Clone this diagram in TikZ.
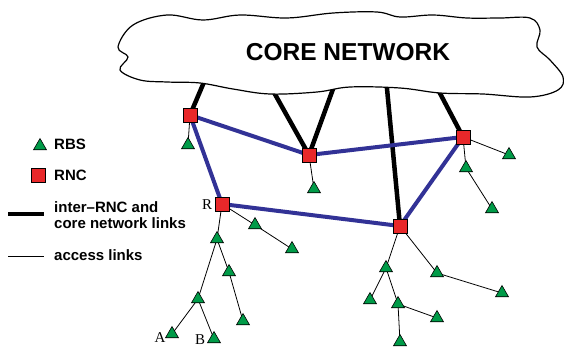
\documentclass[tikz,border=0pt]{standalone}
\usepackage{fontspec}
\setmainfont{Liberation Sans}
\newfontfamily\seriffont{Liberation Serif}
\usetikzlibrary{shapes.geometric}
\pgfdeclarelayer{bg}
\pgfsetlayers{bg,main}
\definecolor{rbsgreen}{RGB}{0,155,72}
\definecolor{rncred}{RGB}{232,40,42}
\definecolor{linkblue}{RGB}{50,50,150}
\begin{document}
\begin{tikzpicture}[x=1pt,y=-1pt,
 rbs/.style={regular polygon, regular polygon sides=3, minimum size=15pt, inner sep=0pt, fill=rbsgreen, draw=black, line width=0.6pt},
 rnc/.style={rectangle, minimum size=14pt, inner sep=0pt, fill=rncred, draw=black, line width=0.6pt},
 interlink/.style={line width=4pt, draw=linkblue},
 corelink/.style={line width=4.5pt, draw=black},
 access/.style={line width=0.8pt, draw=black},
 lbl/.style={font=\bfseries\fontsize{15}{16}\selectfont, anchor=west, inner sep=0pt, align=left},
 letter/.style={font=\seriffont\fontsize{15}{16}\selectfont, inner sep=0pt},
 ]
\useasboundingbox (0,0) rectangle (564,348);

% cloud anchor points for core links
\coordinate (c1) at (207,75);
\coordinate (c2) at (267,80);
\coordinate (c3) at (337,78);
\coordinate (c4) at (386,78);
\coordinate (c5) at (433,80);

% RNC nodes
\node[rnc] (r1) at (190,115) {};
\node[rnc] (r2) at (309,155) {};
\node[rnc] (r3) at (463,137) {};
\node[rnc] (r4) at (222,204) {};
\node[rnc] (r5) at (400,226) {};

% RBS nodes
\node[rbs] (t1) at (188,145) {};
\node[rbs] (t2) at (314,189) {};
\node[rbs] (t3) at (509,155) {};
\node[rbs] (t4) at (466,168) {};
\node[rbs] (t5) at (492,209) {};
\node[rbs] (t6) at (255,225) {};
\node[rbs] (t7) at (292,249) {};
\node[rbs] (t8) at (217,239) {};
\node[rbs] (t9) at (229,272) {};
\node[rbs] (t10) at (243,321) {};
\node[rbs] (t11) at (198,299) {};
\node[rbs] (tA) at (172,334) {};
\node[rbs] (tB) at (214,339) {};
\node[rbs] (t12) at (386,268) {};
\node[rbs] (t13) at (370,300) {};
\node[rbs] (t14) at (398,304) {};
\node[rbs] (t15) at (437,318) {};
\node[rbs] (t16) at (400,342) {};
\node[rbs] (t17) at (437,273) {};
\node[rbs] (t18) at (502,293) {};

% labels
\node[letter] (lR) at (207,205) {R};
\node[letter] (lA) at (160,338) {A};
\node[letter] (lB) at (200,339.5) {B};

% cloud
\draw[line width=1.2pt, fill=white] plot[smooth cycle, tension=0.6] coordinates {
 (133,25) (167,15) (203,20) (240,15) (287,18) (333,13) (377,12) (400,17)
 (433,15) (467,18) (500,18) (530,18) (540,30) (537,47) (550,60) (563,77)
 (558,90) (530,97) (483,94) (440,93) (400,88) (350,87) (317,92) (270,94)
 (233,89) (200,83) (167,82) (140,80) (120,70) (128,57) (118,47)};
\node[font=\bfseries\fontsize{24.5}{26}\selectfont, inner sep=0pt] (core) at (348,52) {CORE NETWORK};

\begin{pgfonlayer}{bg}
 % core links
 \draw[corelink] (r1.center) -- (c1);
 \draw[corelink] (r2.center) -- (c2);
 \draw[corelink] (r2.center) -- (c3);
 \draw[corelink] (r5.center) -- (c4);
 \draw[corelink] (r3.center) -- (c5);
 % inter-RNC links
 \draw[interlink] (r1.center) -- (r2.center);
 \draw[interlink] (r1.center) -- (r4.center);
 \draw[interlink] (r2.center) -- (r3.center);
 \draw[interlink] (r3.center) -- (r5.center);
 \draw[interlink] (r4.center) -- (r5.center);
 % access links
 \draw[access] (r1.center) -- (t1.center);
 \draw[access] (r2.center) -- (t2.center);
 \draw[access] (r3.center) -- (t3.center);
 \draw[access] (r3.center) -- (t4.center);
 \draw[access] (t4.center) -- (t5.center);
 \draw[access] (r4.center) -- (t6.center);
 \draw[access] (t6.center) -- (t7.center);
 \draw[access] (r4.center) -- (t8.center);
 \draw[access] (t8.center) -- (t9.center);
 \draw[access] (t9.center) -- (t10.center);
 \draw[access] (t8.center) -- (t11.center);
 \draw[access] (t11.center) -- (tA.center);
 \draw[access] (t11.center) -- (tB.center);
 \draw[access] (r5.center) -- (t12.center);
 \draw[access] (t12.center) -- (t13.center);
 \draw[access] (t12.center) -- (t14.center);
 \draw[access] (t14.center) -- (t15.center);
 \draw[access] (t14.center) -- (t16.center);
 \draw[access] (r5.center) -- (t17.center);
 \draw[access] (t17.center) -- (t18.center);
\end{pgfonlayer}

% legend
\node[rbs] (legT) at (40,146) {};
\node[lbl] (legTt) at (54,144) {RBS};
\node[rnc] (legR) at (38,175) {};
\node[lbl] (legRt) at (54,175) {RNC};
\coordinate (lk1a) at (8,214);
\coordinate (lk1b) at (44,214);
\draw[line width=4pt] (lk1a) -- (lk1b);
\node[lbl] (legC) at (54,215) {inter--RNC and\\core network links};
\coordinate (lk2a) at (8,256);
\coordinate (lk2b) at (44,256);
\draw[line width=0.6pt] (lk2a) -- (lk2b);
\node[lbl] (legA) at (54,255) {access links};
\end{tikzpicture}
\end{document}
